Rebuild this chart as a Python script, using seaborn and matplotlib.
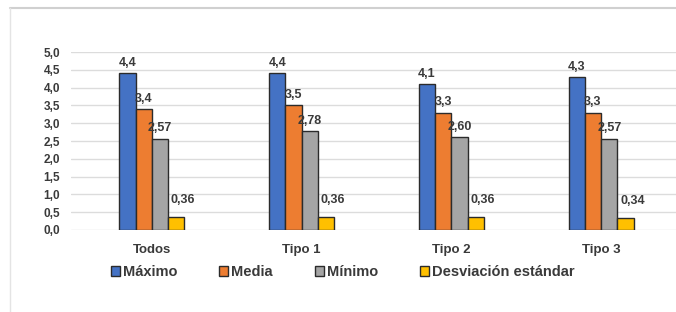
import matplotlib
matplotlib.use("Agg")
import matplotlib.pyplot as plt
from matplotlib.lines import Line2D
from matplotlib.ticker import FuncFormatter, MultipleLocator
import seaborn as sns
import pandas as pd

categories = ["Todos", "Tipo 1", "Tipo 2", "Tipo 3"]
series = ["Máximo", "Media", "Mínimo", "Desviación estándar"]
maximo = [4.4, 4.4, 4.1, 4.3]
media = [3.4, 3.5, 3.3, 3.3]
minimo = [2.57, 2.78, 2.60, 2.57]
desviacion = [0.36, 0.36, 0.36, 0.34]
decimals = [1, 1, 2, 2]
colors = ["#4472C4", "#ED7D31", "#A5A5A5", "#FFC000"]

values = [maximo, media, minimo, desviacion]
rows = []
for s, vals in zip(series, values):
    for c, v in zip(categories, vals):
        rows.append({"cat": c, "serie": s, "val": v})
df = pd.DataFrame(rows)

sns.set_theme(style="white")
plt.rcParams["font.family"] = ["Liberation Sans", "DejaVu Sans"]
txt = "#3a3a3a"

fig = plt.figure(figsize=(6.76, 3.12), dpi=100)
ax = fig.add_axes([71 / 676, 0.263, 1 - 71 / 676, 0.570])

sns.barplot(data=df, x="cat", y="val", hue="serie", order=categories,
            hue_order=series, palette=colors, saturation=1, width=0.435,
            edgecolor="#2b2b2b", linewidth=1.0, ax=ax, legend=True)

ax.set_xlim(-0.54, 3.5)
ax.set_ylim(0, 5)
ax.yaxis.set_major_locator(MultipleLocator(0.5))
ax.yaxis.set_major_formatter(FuncFormatter(lambda v, p: f"{v:.1f}".replace(".", ",")))
ax.grid(axis="y", color="#dcdcdc", linewidth=1.0)
ax.set_axisbelow(True)
for sp in ax.spines.values():
    sp.set_visible(False)
ax.set_xlabel("")
ax.set_ylabel("")
ax.tick_params(axis="y", length=0, pad=8, labelsize=8.5, labelcolor=txt)
ax.tick_params(axis="x", length=0, pad=10, labelsize=9.5, labelcolor=txt)
for lab in ax.get_yticklabels() + ax.get_xticklabels():
    lab.set_fontweight("bold")

pads = [3, 3, 3, 8]
for i, (cont, vals, d, p) in enumerate(zip(ax.containers, values, decimals, pads)):
    labels = [f"{v:.{d}f}".replace(".", ",") for v in vals]
    anns = ax.bar_label(cont, labels=labels, padding=p, fontsize=9,
                        color=txt, fontweight="bold")
    if i == 3:
        for a in anns:
            a.xyann = (5, p)

leg = ax.get_legend()
handles = leg.legend_handles
leg.remove()
fig.legend(handles, series, loc="center", bbox_to_anchor=(0.507, 0.128),
           ncol=4, frameon=False, handlelength=0.6,
           handleheight=0.6, handletextpad=0.2, columnspacing=2.9,
           prop={"weight": "bold", "size": 10.5})
for t in fig.legends[0].get_texts():
    t.set_color(txt)

# outer chart frame (top and left visible)
fig.add_artist(Line2D([10 / 676, 1], [1 - 8 / 312, 1 - 8 / 312],
                      transform=fig.transFigure, color="#d0d0d0", linewidth=1.5))
fig.add_artist(Line2D([10 / 676, 10 / 676], [0, 1 - 8 / 312],
                      transform=fig.transFigure, color="#e4e4e4", linewidth=1.0))

fig.savefig("out.png", dpi=100, facecolor="white")
